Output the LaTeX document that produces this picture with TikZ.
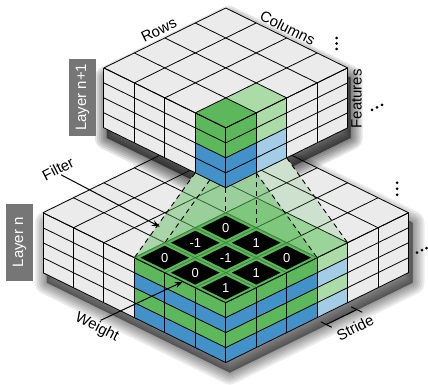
\documentclass[tikz,border=0pt]{standalone}
\usepackage{fontspec}
\setmainfont{Liberation Sans}
\usetikzlibrary{arrows.meta}
\definecolor{cgray}{HTML}{EBEBEB}
\definecolor{cgreen}{HTML}{5DB85B}
\definecolor{cblue}{HTML}{4291C8}
\definecolor{clgreen}{HTML}{ABDCA8}
\definecolor{clblue}{HTML}{A3CCE6}
\definecolor{cbox}{HTML}{767676}
\definecolor{cgrid}{HTML}{3A8A3A}
\newcommand\softshadow[2]{\foreach \lw in {24,20,16,12,8,4,1}{\filldraw[black,opacity=#1,line width=\lw pt,line join=round] #2;}}
\begin{document}
\begin{tikzpicture}[
  lbl/.style={font=\fontsize{15}{18}\selectfont, inner sep=1pt},
  num/.style={font=\fontsize{13}{16}\selectfont, text=white, inner sep=0pt},
  layerbox/.style={fill=cbox, text=white, font=\fontsize{15}{18}\selectfont, rotate=90, minimum width=77pt, minimum height=27pt, inner sep=0pt},
  edge/.style={line width=0.8pt, line join=round},
  fedge/.style={line width=0.9pt, cgrid},
  dashedge/.style={dash pattern=on 5pt off 4pt, line width=0.9pt},
  arr/.style={-{Stealth[length=8pt,width=6pt]}, line width=1pt}
]
\begin{scope}[x=1pt,y=-1pt]
\useasboundingbox (0,0) rectangle (428,370);
\end{scope}

\begin{scope}[shift={(226pt,-363pt)}, x={(30.5pt,15pt)}, y={(-30.5pt,15pt)}, z={(0pt,15pt)}]
\def\H{9.6667}
% bottom block shadow
\begin{scope}[shift={(4pt,-10pt)}]
\softshadow{0.08}{(0,0,0)--(6,0,0)--(6,0,4)--(6,6,4)--(0,6,4)--(0,6,0)--cycle}
\end{scope}
% bottom block fills
\fill[cgray] (0,0,4)--(6,0,4)--(6,6,4)--(0,6,4)--cycle;
\fill[cgray] (0,0,0)--(0,6,0)--(0,6,4)--(0,0,4)--cycle;
\fill[cgray] (0,0,0)--(6,0,0)--(6,0,4)--(0,0,4)--cycle;
\foreach \w/\c/\lc in {0/cblue/clblue,1/cgreen/clgreen,2/cblue/clblue,3/cgreen/clgreen}{
  \fill[\c] (0,0,\w)--(0,3,\w)--(0,3,\w+1)--(0,0,\w+1)--cycle;
  \fill[\c] (0,0,\w)--(3,0,\w)--(3,0,\w+1)--(0,0,\w+1)--cycle;
  \fill[\lc] (3,0,\w)--(4,0,\w)--(4,0,\w+1)--(3,0,\w+1)--cycle;
}
% top block shadow
\begin{scope}[shift={(3pt,-10pt)}]
\softshadow{0.1}{(1,1,\H)--(5,1,\H)--(5,1,\H+4)--(5,5,\H+4)--(1,5,\H+4)--(1,5,\H)--cycle}
\end{scope}
% clean area under the projection cones
\fill[cgray] (1,2,\H)--(0,3,4)--(0,0,4)--(4,0,4)--(3,1,\H)--(3,2,\H)--(2,2,\H)--cycle;
\fill[clgreen] (3,0,4)--(4,0,4)--(4,3,4)--(3,3,4)--cycle;
% bottom block grid
\foreach \i in {0,...,6}{
  \draw[edge] (\i,0,4)--(\i,6,4);
  \draw[edge] (0,\i,4)--(6,\i,4);
  \draw[edge] (0,\i,0)--(0,\i,4);
  \draw[edge] (\i,0,0)--(\i,0,4);
}
\foreach \w in {0,...,4}{
  \draw[edge] (0,0,\w)--(0,6,\w);
  \draw[edge] (0,0,\w)--(6,0,\w);
}
% cones
\fill[cgreen, opacity=0.45] (2,2,\H)--(1,2,\H)--(0,3,4)--(0,0,4)--(3,0,4)--(2,1,\H)--cycle;
\fill[cgreen, opacity=0.2] (2,2,\H)--(1,3,4)--(1,0,4)--(4,0,4)--(3,1,\H)--(3,2,\H)--cycle;
\draw[dashedge] (1,2,\H)--(0,3,4);
\draw[dashedge] (2,1,\H)--(3,0,4);
\draw[dashedge] (1,1,\H)--(0,0,4);
\draw[dashedge] (2,2,\H)--(1,3,4);
\draw[dashedge] (3,1,\H)--(4,0,4);
\draw[dashedge] (2,1,\H)--(1,0,4);
% filter
\fill[cgreen] (0,0,4)--(3,0,4)--(3,3,4)--(0,3,4)--cycle;
\foreach \i in {0,...,3}{
  \draw[fedge] (\i,0,4)--(\i,3,4);
  \draw[fedge] (0,\i,4)--(3,\i,4);
}
\foreach \ii/\jj/\val in {0/0/1, 1/0/1, 2/0/0, 0/1/0, 1/1/-1, 2/1/1, 0/2/0, 1/2/-1, 2/2/0}{
  \fill[black] (\ii+0.1,\jj+0.1,4)--(\ii+0.9,\jj+0.1,4)--(\ii+0.9,\jj+0.9,4)--(\ii+0.1,\jj+0.9,4)--cycle;
  \node[num] (w\ii\jj) at (\ii+0.5,\jj+0.5,4) {\val};
}
\draw[edge] (0,3,4)--(0,0,4)--(3,0,4);
% stride bracket
\draw[line width=1pt] (2.92,-0.2,0)--(2.92,-0.56,0);
\draw[line width=1pt] (2.92,-0.38,0)--(3.92,-0.38,0);
\draw[line width=1pt] (3.92,-0.2,0)--(3.92,-0.56,0);
% top block
\begin{scope}[shift={(1,1,\H)}]
\fill[cgray] (0,0,4)--(4,0,4)--(4,4,4)--(0,4,4)--cycle;
\fill[cgray] (0,0,0)--(0,4,0)--(0,4,4)--(0,0,4)--cycle;
\fill[cgray] (0,0,0)--(4,0,0)--(4,0,4)--(0,0,4)--cycle;
\fill[cgreen] (0,0,4)--(1,0,4)--(1,1,4)--(0,1,4)--cycle;
\fill[clgreen] (1,0,4)--(2,0,4)--(2,1,4)--(1,1,4)--cycle;
\foreach \w/\c/\lc in {0/cblue/clblue,1/cblue/clblue,2/cgreen/clgreen,3/cgreen/clgreen}{
  \fill[\c] (0,0,\w)--(0,1,\w)--(0,1,\w+1)--(0,0,\w+1)--cycle;
  \fill[\c] (0,0,\w)--(1,0,\w)--(1,0,\w+1)--(0,0,\w+1)--cycle;
  \fill[\lc] (1,0,\w)--(2,0,\w)--(2,0,\w+1)--(1,0,\w+1)--cycle;
}
\foreach \i in {0,...,4}{
  \draw[edge] (\i,0,4)--(\i,4,4);
  \draw[edge] (0,\i,4)--(4,\i,4);
  \draw[edge] (0,\i,0)--(0,\i,4);
  \draw[edge] (\i,0,0)--(\i,0,4);
  \draw[edge] (0,0,\i)--(0,4,\i);
  \draw[edge] (0,0,\i)--(4,0,\i);
}
\end{scope}
\end{scope}

\begin{scope}[x=1pt,y=-1pt]
\node[layerbox] (lnp1) at (82.5,97.5) {Layer n+1};
\node[layerbox] (ln) at (19.5,242.5) {Layer n};
\node[lbl, rotate=26.2] (rows) at (159,30) {Rows};
\node[lbl, rotate=-26.2] (cols) at (288,28) {Columns};
\node[lbl, rotate=90] (feat) at (357,99) {Features};
\node[lbl, rotate=27] (filt) at (58,169) {Filter};
\node[lbl, rotate=-27] (wgt) at (97,328) {Weight};
\node[lbl, rotate=27] (strd) at (355.5,328) {Stride};
\coordinate (ftip) at (160,227);
\coordinate (wtip) at (183,282);
\draw[arr] (filt.south) -- (ftip);
\draw[arr] (wgt.north) -- (wtip);
\foreach \p in {(337,38),(337,43.5),(337,49),(372.5,110),(377.5,107.5),(382.5,105),(397.5,183),(397.5,189),(397.5,195),(417.5,253),(422.5,250.5),(427,248.3)}{
  \fill \p circle[radius=1.5pt];
}
\end{scope}
\end{tikzpicture}
\end{document}
